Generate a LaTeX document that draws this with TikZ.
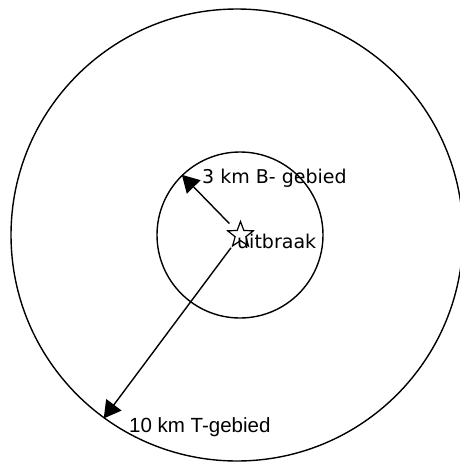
\documentclass[tikz,border=0pt]{standalone}
\usepackage{fontspec}
\setmainfont{DejaVu Sans}
\newfontfamily\arialfont{Liberation Sans}
\usetikzlibrary{arrows.meta,positioning,shapes.geometric}
\tikzset{
  zone/.style={circle, draw, line width=1.4pt, inner sep=0pt},
  zonetext/.style={inner sep=0pt, anchor=base west, font=\fontsize{19pt}{23pt}\selectfont},
  arialtext/.style={zonetext, font=\arialfont\fontsize{20.5pt}{24pt}\selectfont},
  arr/.style={-{Triangle[length=17pt, width=19pt]}, line width=1.4pt},
  outbreak/.style={star, star points=5, star point ratio=2.4, draw, line width=1.2pt,
    minimum size=27pt, inner sep=0pt}
}
\begin{document}
\begin{tikzpicture}[x=1pt, y=-1pt]
  \useasboundingbox (0,0) rectangle (460,463);
  \node[zone, minimum size=452pt] (tgebied) at (237,235) {};
  \node[zone, minimum size=166pt] (bgebied) at (240,235) {};
  \node[outbreak] (uitbraak) at (240.5,235) {};
  \node[zonetext] (btekst) at (202,183) {3 km B- gebied};
  \node[zonetext] (utekst) at (237,248) {uitbraak};
  \node[arialtext] (ttekst) at (129,432) {10 km T-gebied};
  \draw[arr, shorten <=16pt] (uitbraak.center) -- (bgebied.134.5);
  \draw[arr, shorten <=16pt] (uitbraak.center) -- (tgebied.234);
\end{tikzpicture}
\end{document}
